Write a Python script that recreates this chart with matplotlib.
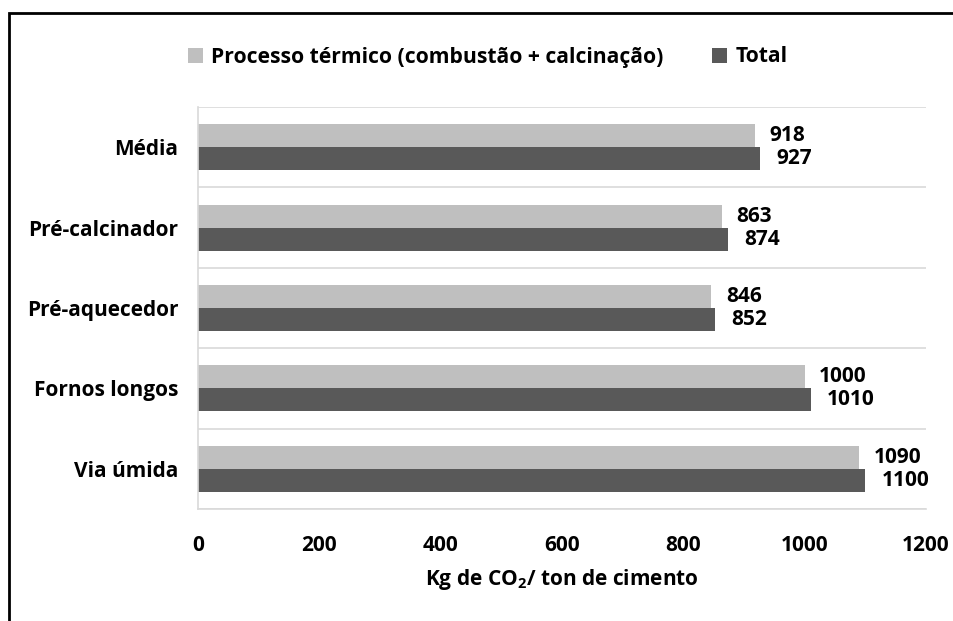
import matplotlib
matplotlib.use("Agg")
import matplotlib.pyplot as plt
from matplotlib.patches import Rectangle
import numpy as np

categories = ["Via úmida", "Fornos longos", "Pré-aquecedor", "Pré-calcinador", "Média"]
termico = [1090, 1000, 846, 863, 918]
total = [1100, 1010, 852, 874, 927]
series_names = ["Processo térmico (combustão + calcinação)", "Total"]
xticks = [0, 200, 400, 600, 800, 1000, 1200]

plt.rcParams["font.family"] = ["Open Sans", "DejaVu Sans"]
plt.rcParams["font.weight"] = "bold"
plt.rcParams["mathtext.fontset"] = "custom"
plt.rcParams["mathtext.rm"] = "Open Sans:bold"
plt.rcParams["mathtext.default"] = "rm"

W, H = 954, 621
fig = plt.figure(figsize=(W / 100, H / 100), dpi=100)
ax = fig.add_axes([198 / W, 1 - 509 / H, (926 - 198) / W, (509 - 107) / H])

light = "#BFBFBF"
dark = "#595959"
grid = "#D9D9D9"

y = np.arange(len(categories))
h = 0.286
b1 = ax.barh(y + h / 2, termico, height=h, color=light, label=series_names[0])
b2 = ax.barh(y - h / 2, total, height=h, color=dark, label=series_names[1])

fs = 15
for rect, v in zip(b1, termico):
    ax.annotate(str(v), (v, rect.get_y() + rect.get_height() / 2), xytext=(10.5, 0),
                textcoords="offset points", va="center", ha="left", fontsize=fs, fontweight="bold")
for rect, v in zip(b2, total):
    ax.annotate(str(v), (v, rect.get_y() + rect.get_height() / 2), xytext=(11.5, 0),
                textcoords="offset points", va="center", ha="left", fontsize=fs, fontweight="bold")

ax.set_xlim(0, 1200)
ax.set_ylim(-0.5, len(categories) - 0.5)
ax.set_xticks(xticks)
ax.set_xticklabels([str(t) for t in xticks], fontsize=fs, fontweight="bold")
ax.set_yticks(y)
ax.set_yticklabels(categories, fontsize=fs, fontweight="bold")
ax.tick_params(axis="x", length=0, pad=19)
ax.tick_params(axis="y", length=0, pad=14)

for yb in np.arange(-0.5, len(categories), 1.0):
    ax.axhline(yb, color=grid, lw=1.2, zorder=0)
for s in ["top", "right"]:
    ax.spines[s].set_visible(False)
ax.spines["left"].set_color(grid)
ax.spines["left"].set_linewidth(1.2)
ax.spines["bottom"].set_color(grid)
ax.spines["bottom"].set_linewidth(1.2)

ax.set_xlabel("Kg de CO$_2$/ ton de cimento", fontsize=fs, fontweight="bold", labelpad=8)

fig.legend(handles=[b1, b2], labels=series_names, loc="center", bbox_to_anchor=(488 / W, 1 - 57 / H),
           ncol=2, frameon=False, handlelength=0.7, handleheight=0.7,
           handletextpad=0.4, columnspacing=2.3, prop={"weight": "bold", "size": 15.2})

fig.patches.append(Rectangle((9.5 / W, -0.1), 2.0, 1.1 - 12.5 / H, transform=fig.transFigure,
                             fill=False, edgecolor="black", lw=2, clip_on=False))

fig.savefig("out.png", dpi=100)
